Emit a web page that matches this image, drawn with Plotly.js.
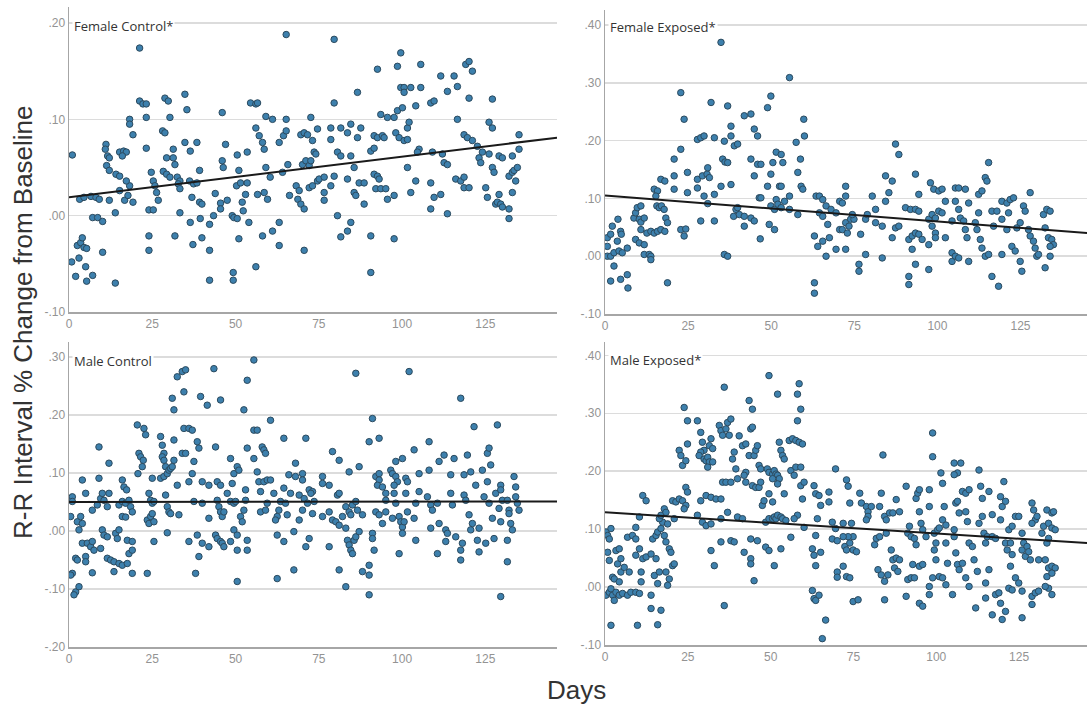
<!DOCTYPE html>
<html>
<head>
<meta charset="utf-8">
<script src="https://cdn.plot.ly/plotly-3.0.1.min.js"></script>
<style>
  html, body { margin: 0; padding: 0; background: #ffffff; }
  #chart { width: 1088px; height: 706px; }
</style>
</head>
<body>
<div id="chart"></div>
<script>
// R-R interval % change from baseline by day, one panel per group: [day, change]
const fcPoints = [
  [1.0,0.063],[0.8,-0.048],[3.0,-0.044],[2.5,-0.031],[3.5,-0.028],[4.0,-0.023],[4.5,-0.033],[5.3,-0.034],[2.0,-0.063],[5.0,-0.053],
  [5.3,-0.068],[7.1,-0.062],[3.2,0.017],[4.5,0.019],[6.6,0.020],[8.1,0.019],[9.1,0.017],[7.1,-0.002],[8.6,-0.002],[10.1,-0.006],
  [10.1,-0.038],[11.1,0.074],[10.9,0.069],[11.6,0.062],[12.1,0.060],[11.3,0.052],[12.1,0.047],[12.1,0.016],[14.1,0.043],[15.2,0.041],
  [13.9,0.003],[13.9,-0.070],[15.2,0.066],[16.4,0.067],[17.2,0.066],[16.0,0.062],[15.2,0.026],[16.7,0.016],[17.7,0.021],[18.2,0.031],
  [17.2,0.036],[18.2,0.100],[18.2,0.095],[19.2,0.084],[19.2,0.014],[21.2,0.174],[21.2,0.119],[22.2,0.116],[23.2,0.116],[23.2,0.102],
  [23.2,0.070],[24.7,0.045],[25.3,0.036],[25.8,0.031],[26.3,0.024],[24.0,0.006],[25.3,0.006],[24.0,-0.021],[24.0,-0.036],[26.8,0.016],
  [28.8,0.122],[29.8,0.119],[28.1,0.088],[28.8,0.086],[28.3,0.046],[29.3,0.043],[30.3,0.040],[30.3,0.102],[29.3,0.060],[31.3,0.069],
  [31.3,0.060],[31.8,0.053],[32.5,0.040],[33.3,0.036],[32.8,0.033],[33.3,0.028],[31.8,-0.021],[33.3,0.003],[34.8,0.126],[35.4,0.110],
  [34.8,0.076],[36.4,0.067],[38.4,0.076],[36.2,0.036],[36.9,0.019],[37.4,0.033],[38.4,0.034],[36.4,-0.007],[37.2,-0.030],[39.2,0.047],
  [39.2,0.014],[39.9,0.012],[39.4,-0.003],[39.9,-0.023],[42.2,-0.009],[42.2,-0.036],[42.2,-0.067],[43.4,0.000],[43.9,0.023],[45.5,0.013],
  [45.5,0.007],[46.0,0.107],[46.0,0.057],[46.3,0.050],[47.0,0.074],[47.5,0.016],[49.0,0.000],[49.5,-0.002],[50.5,-0.003],[49.3,-0.059],
  [49.3,-0.067],[50.3,0.031],[50.5,0.063],[51.0,0.047],[51.5,0.034],[51.0,-0.024],[52.0,0.014],[52.3,0.005],[53.0,0.022],[53.5,0.034],
  [53.5,0.066],[54.0,-0.007],[54.5,0.117],[56.1,0.116],[56.6,0.117],[56.1,0.091],[57.1,0.083],[58.1,0.076],[58.6,0.069],[56.1,-0.053],
  [56.6,0.022],[58.1,-0.021],[58.6,0.024],[59.6,0.017],[59.1,0.103],[61.1,0.100],[59.1,0.050],[60.4,0.040],[61.1,-0.016],[63.1,-0.007],
  [63.1,-0.031],[63.1,0.076],[64.4,0.083],[65.2,0.100],[65.2,0.088],[64.1,0.045],[65.7,0.053],[65.2,0.188],[66.2,0.021],[68.2,0.031],
  [68.7,0.017],[69.1,0.026],[69.6,0.084],[70.6,0.086],[71.6,0.084],[70.1,0.053],[71.1,0.057],[72.1,0.052],[72.6,0.057],[69.6,0.012],
  [70.6,0.007],[70.6,-0.036],[72.6,0.102],[73.1,0.078],[73.6,0.066],[74.1,0.064],[72.1,0.029],[73.1,0.031],[74.6,0.036],[75.1,0.038],
  [76.6,0.040],[76.6,0.024],[76.6,0.016],[74.6,0.090],[78.6,0.091],[78.6,0.079],[79.6,0.117],[79.6,0.183],[78.6,0.031],[79.6,0.041],
  [80.6,0.000],[80.6,0.066],[81.6,0.062],[81.6,0.091],[83.6,0.086],[84.6,0.095],[81.6,-0.022],[83.6,-0.016],[84.6,-0.007],[83.6,0.038],
  [84.6,0.062],[85.6,0.050],[85.6,0.024],[86.1,0.021],[86.6,0.128],[86.6,0.081],[87.6,0.091],[87.1,0.034],[88.6,0.034],[88.6,0.012],
  [90.6,0.067],[91.6,0.070],[90.6,-0.021],[90.6,-0.059],[91.6,0.083],[92.6,0.081],[94.1,0.083],[94.6,0.081],[91.6,0.043],[92.6,0.041],
  [93.1,0.038],[92.1,0.028],[93.6,0.028],[95.1,0.028],[92.6,0.152],[93.6,0.105],[95.6,0.102],[97.6,0.102],[98.6,0.109],[100.1,0.112],
  [95.6,0.017],[97.6,0.021],[97.6,-0.024],[98.1,0.086],[99.1,0.081],[100.6,0.078],[101.6,0.079],[98.6,0.155],[99.6,0.169],[99.6,0.133],
  [100.6,0.133],[100.6,0.128],[102.6,0.133],[105.6,0.133],[101.6,0.091],[102.1,0.097],[101.6,0.050],[102.6,0.024],[104.1,0.036],[104.1,0.114],
  [105.1,0.069],[104.6,0.066],[105.6,0.157],[108.6,0.034],[108.6,0.007],[108.6,0.117],[109.6,0.119],[109.6,0.019],[109.1,0.066],[112.1,0.064],
  [111.6,0.022],[111.6,0.145],[112.6,0.055],[113.6,0.053],[113.6,0.002],[113.6,0.129],[115.6,0.145],[116.6,0.134],[116.6,0.100],[116.1,0.038],
  [117.6,0.036],[118.6,0.040],[118.6,0.029],[120.1,0.029],[119.1,0.157],[120.1,0.160],[121.1,0.150],[120.1,0.122],[118.6,0.084],[119.6,0.081],
  [121.1,0.078],[122.6,0.072],[123.1,0.060],[123.6,0.055],[124.1,0.066],[125.1,0.029],[125.6,0.019],[126.1,0.064],[127.1,0.121],[126.1,0.097],
  [127.1,0.091],[127.1,0.050],[127.6,0.045],[128.1,0.012],[129.1,0.022],[128.6,0.014],[129.6,0.012],[130.1,0.009],[132.1,0.007],[132.1,-0.003],
  [129.1,0.062],[130.1,0.060],[133.1,0.062],[132.1,0.041],[133.1,0.045],[133.6,0.047],[134.6,0.050],[134.1,0.036],[133.1,0.024],[135.1,0.084],
  [135.1,0.069]
];

const fePoints = [
  [0.7,0.032],[1.7,0.038],[2.2,0.052],[0.7,0.017],[0.7,0.000],[1.7,0.000],[2.7,0.006],[4.2,0.009],[5.2,0.006],[3.9,0.064],
  [4.7,0.043],[4.9,0.038],[3.7,0.026],[2.7,-0.017],[1.7,-0.043],[4.7,-0.040],[6.7,-0.032],[6.9,-0.055],[6.7,0.014],[8.7,0.066],
  [9.2,0.075],[9.7,0.084],[10.8,0.087],[10.3,0.064],[10.8,0.059],[11.8,0.066],[9.2,0.029],[10.3,0.023],[11.8,0.020],[11.8,0.003],
  [13.3,0.003],[13.8,0.000],[13.8,-0.006],[10.8,0.046],[12.6,0.040],[13.8,0.043],[14.8,0.040],[15.8,0.043],[16.8,0.046],[18.0,0.043],
  [14.8,0.116],[15.8,0.113],[15.3,0.104],[15.6,0.087],[16.3,0.084],[17.0,0.087],[17.8,0.081],[18.3,0.066],[18.8,0.058],[16.8,0.133],
  [18.0,0.130],[18.8,-0.046],[20.8,0.116],[20.8,0.139],[20.8,0.168],[22.8,0.283],[23.8,0.237],[22.8,0.185],[22.8,0.046],[24.3,0.047],
  [23.8,0.035],[24.8,0.145],[24.8,0.110],[27.8,0.202],[28.8,0.205],[29.8,0.208],[27.8,0.118],[29.8,0.104],[28.8,0.061],[27.8,0.133],
  [29.3,0.139],[30.7,0.142],[30.9,0.153],[31.4,0.136],[31.9,0.266],[32.9,0.205],[32.9,0.107],[32.9,0.061],[30.9,0.091],[34.9,0.370],
  [34.9,0.121],[35.9,0.199],[35.4,0.168],[36.1,0.163],[36.9,0.162],[36.9,0.260],[37.9,0.225],[37.9,0.208],[37.9,0.124],[35.9,0.003],
  [36.9,0.000],[38.9,0.191],[39.9,0.194],[38.7,0.069],[39.4,0.081],[39.9,0.084],[40.4,0.072],[41.9,0.243],[43.9,0.246],[41.9,0.069],
  [41.9,0.052],[43.9,0.066],[44.9,0.061],[43.9,0.168],[44.9,0.220],[45.9,0.208],[45.9,0.159],[46.9,0.159],[44.9,0.139],[46.4,0.101],
  [46.9,0.101],[46.7,0.030],[48.9,0.257],[49.9,0.277],[49.9,0.142],[48.9,0.121],[49.9,0.087],[51.0,0.081],[51.0,0.046],[49.4,0.055],
  [50.5,0.162],[51.5,0.180],[53.0,0.176],[53.5,0.162],[51.5,0.098],[52.0,0.090],[52.5,0.121],[53.0,0.121],[53.0,0.084],[54.0,0.095],
  [55.5,0.309],[55.5,0.104],[55.5,0.081],[57.5,0.197],[58.0,0.072],[58.0,0.145],[58.8,0.168],[59.0,0.121],[59.5,0.116],[59.8,0.237],
  [60.0,0.208],[63.0,0.035],[63.0,-0.046],[63.0,-0.064],[63.5,0.104],[64.5,0.104],[65.5,0.098],[64.0,0.017],[65.5,0.026],[66.5,0.000],
  [67.5,0.032],[64.5,0.075],[65.5,0.069],[66.5,0.087],[67.0,0.055],[68.0,0.081],[69.5,0.075],[69.5,0.012],[70.6,0.095],[70.6,0.046],
  [71.4,0.092],[72.4,0.104],[72.4,0.121],[71.4,0.046],[72.4,0.058],[72.9,0.040],[73.4,0.052],[73.9,0.064],[74.9,0.064],[74.4,0.072],
  [72.4,0.012],[76.4,-0.014],[76.4,-0.026],[76.9,0.038],[78.4,0.003],[78.4,0.064],[78.9,0.072],[80.4,0.104],[81.4,0.081],[81.4,0.058],
  [83.4,0.052],[83.4,-0.003],[84.4,0.095],[84.4,0.139],[85.4,0.110],[86.4,0.130],[86.4,0.032],[87.4,0.049],[88.4,0.052],[87.4,0.194],
  [88.4,0.176],[90.4,0.084],[91.9,0.081],[93.4,0.081],[94.4,0.078],[91.4,0.029],[92.4,0.035],[93.4,0.040],[94.4,0.038],[95.4,0.029],
  [97.4,0.020],[93.4,0.142],[91.4,-0.035],[91.4,-0.049],[93.4,-0.014],[97.4,-0.023],[94.4,0.107],[92.4,0.012],[97.4,0.064],[98.4,0.072],
  [99.4,0.040],[99.4,0.032],[98.4,0.052],[97.9,0.127],[98.9,0.116],[100.4,0.113],[101.4,0.116],[99.4,0.066],[100.4,0.078],[101.4,0.075],
  [102.4,0.095],[102.4,0.032],[104.4,0.061],[104.4,0.006],[104.4,-0.009],[105.4,0.000],[106.4,-0.003],[109.4,-0.009],[105.4,0.118],[106.4,0.118],
  [105.4,0.095],[108.4,0.116],[109.4,0.092],[106.4,0.081],[106.9,0.066],[107.9,0.061],[108.4,0.046],[108.9,0.032],[112.4,0.107],[113.4,0.113],
  [112.4,0.075],[111.4,0.058],[111.9,0.046],[112.9,0.029],[113.4,0.014],[114.4,0.000],[115.4,0.003],[114.4,0.136],[114.9,0.130],[115.4,0.162],
  [116.4,0.078],[116.9,0.052],[117.9,0.078],[119.4,0.064],[119.4,0.095],[120.9,0.092],[121.9,0.098],[122.9,0.101],[116.4,-0.035],[118.4,-0.052],
  [119.4,0.003],[120.9,0.046],[122.4,0.017],[123.4,0.009],[124.9,-0.009],[125.4,-0.026],[121.4,0.075],[123.9,0.049],[124.9,0.058],[125.9,0.087],
  [126.4,0.078],[127.4,0.046],[127.9,0.035],[128.9,0.026],[129.4,0.014],[129.9,0.000],[130.4,0.003],[127.9,0.110],[131.9,0.072],[132.9,0.081],
  [133.9,0.078],[132.4,0.049],[133.4,0.032],[134.4,0.029],[134.9,0.020],[133.9,0.017],[132.4,-0.020],[133.9,0.000]
];

const mcPoints = [
  [1.0,0.059],[1.0,0.051],[0.5,0.025],[1.0,-0.073],[0.5,-0.076],[2.0,-0.105],[1.5,-0.110],[3.0,-0.096],[2.5,0.016],[3.0,0.002],
  [4.0,0.013],[3.5,0.025],[2.0,-0.047],[2.5,-0.050],[5.0,-0.044],[5.0,-0.053],[4.0,0.088],[5.0,0.065],[4.0,-0.021],[5.5,-0.021],
  [6.5,-0.027],[7.5,-0.033],[7.0,-0.018],[9.5,-0.030],[7.0,-0.072],[7.0,0.036],[8.5,0.045],[9.5,0.056],[10.0,0.065],[10.5,0.053],
  [11.5,0.042],[9.0,0.145],[9.0,0.091],[10.0,0.002],[10.5,-0.007],[11.5,-0.010],[11.5,-0.047],[12.5,-0.050],[13.5,-0.053],[15.0,-0.056],
  [16.0,-0.059],[17.5,-0.056],[18.0,-0.039],[12.0,0.117],[12.0,0.065],[13.5,-0.070],[14.0,-0.004],[14.5,-0.013],[15.0,0.002],[16.0,0.025],
  [17.0,0.024],[15.0,0.045],[16.0,0.051],[17.0,0.048],[16.0,0.088],[16.5,0.076],[17.3,0.071],[18.0,0.053],[18.5,0.042],[19.0,0.033],
  [17.5,-0.016],[19.0,-0.018],[19.0,-0.033],[19.0,-0.073],[20.5,0.183],[21.0,0.134],[21.5,0.128],[22.3,0.122],[22.0,0.111],[20.7,0.099],
  [22.5,0.177],[23.0,0.166],[23.5,-0.073],[23.5,0.019],[24.0,0.013],[24.5,0.025],[25.0,0.030],[25.5,0.016],[24.0,0.065],[24.5,0.053],
  [25.0,0.048],[25.5,0.051],[25.0,0.091],[25.5,-0.018],[27.5,0.163],[28.0,0.148],[28.5,0.134],[28.0,0.128],[28.5,0.122],[29.0,0.111],
  [27.5,0.091],[28.5,0.094],[29.0,0.062],[29.5,0.099],[30.0,0.105],[30.5,0.108],[31.0,0.111],[31.5,0.122],[31.5,0.157],[32.5,0.079],
  [29.5,0.042],[30.0,0.033],[30.5,0.030],[29.5,-0.003],[31.0,0.229],[31.5,0.209],[32.5,0.266],[34.0,0.275],[35.0,0.278],[34.5,0.240],
  [33.0,0.028],[34.0,0.134],[35.0,0.134],[34.5,0.177],[36.0,0.177],[37.0,0.174],[36.0,-0.018],[36.0,0.085],[37.0,0.099],[37.5,0.120],
  [37.5,0.051],[38.0,-0.073],[39.0,-0.044],[38.5,0.154],[39.0,0.143],[38.5,-0.007],[40.0,-0.021],[39.5,0.232],[41.5,0.217],[40.0,0.085],
  [42.0,0.079],[42.0,0.022],[42.0,-0.027],[40.0,0.048],[43.5,0.280],[44.0,0.145],[44.5,0.085],[45.5,0.079],[44.0,-0.007],[44.5,-0.013],
  [45.5,-0.018],[46.0,-0.021],[46.5,-0.027],[44.5,0.053],[45.0,0.042],[45.5,0.033],[46.0,0.025],[46.5,0.033],[45.5,0.226],[47.5,0.065],
  [48.5,0.051],[49.0,0.082],[49.5,0.048],[50.0,0.051],[48.5,0.125],[49.5,0.099],[50.5,0.111],[51.0,0.105],[48.5,-0.018],[49.5,0.002],
  [50.5,-0.007],[50.5,-0.033],[50.5,-0.087],[51.5,0.025],[52.0,0.016],[52.5,0.036],[53.0,0.053],[52.5,0.209],[53.5,0.260],[53.5,0.143],
  [53.0,0.071],[53.5,-0.016],[53.5,-0.033],[55.5,0.295],[55.5,0.174],[56.5,0.174],[55.5,0.125],[56.5,0.102],[57.0,0.085],[57.5,0.068],
  [58.5,0.085],[58.0,0.145],[58.5,0.140],[59.0,0.134],[57.5,0.033],[59.0,0.036],[59.5,0.048],[60.5,0.191],[59.5,0.088],[60.5,0.088],
  [61.5,0.065],[62.5,0.025],[62.0,0.019],[63.0,0.036],[63.5,0.051],[62.5,-0.007],[62.5,-0.082],[64.5,-0.018],[64.5,0.160],[64.5,0.074],
  [65.0,0.048],[65.5,0.028],[66.0,0.097],[66.5,0.065],[67.5,-0.001],[68.0,0.117],[68.0,0.094],[67.5,-0.067],[69.1,0.062],[69.1,0.019],
  [70.1,0.099],[70.1,0.088],[70.1,0.036],[71.1,0.160],[71.1,-0.027],[72.1,-0.013],[70.6,0.056],[71.6,0.048],[72.1,0.071],[73.1,0.068],
  [73.6,0.051],[73.1,0.030],[72.6,0.065],[76.1,0.094],[76.1,0.082],[78.1,0.079],[76.1,0.025],[78.1,0.033],[78.1,-0.027],[79.1,0.137],
  [81.1,0.122],[79.1,0.019],[80.1,0.016],[81.1,0.010],[82.1,0.025],[81.1,-0.067],[83.1,-0.096],[83.1,0.005],[80.6,0.062],[81.1,0.065],
  [83.1,0.042],[84.1,0.033],[84.6,0.028],[85.1,0.045],[86.1,0.051],[86.6,0.036],[84.1,0.102],[87.1,0.111],[86.1,0.272],[83.6,-0.016],
  [84.1,-0.024],[84.6,-0.033],[85.6,-0.016],[86.1,-0.010],[87.1,-0.001],[85.1,-0.039],[88.1,0.028],[88.1,-0.070],[90.1,-0.076],[90.1,-0.059],
  [90.1,-0.110],[91.1,0.194],[90.1,0.154],[93.1,0.160],[91.1,-0.004],[91.1,-0.013],[91.6,-0.033],[92.1,0.094],[93.1,0.099],[93.1,0.088],
  [92.6,0.079],[94.1,0.076],[95.1,0.065],[95.1,0.053],[92.1,0.033],[93.1,0.028],[94.1,0.013],[95.1,0.033],[96.6,0.105],[97.1,0.099],
  [98.1,0.094],[98.6,0.085],[97.6,0.079],[98.1,0.120],[100.1,0.125],[97.6,0.065],[98.1,0.048],[97.1,0.022],[99.1,0.025],[99.6,0.016],
  [100.1,0.007],[100.1,-0.004],[99.1,-0.039],[101.1,0.091],[101.6,0.085],[101.1,0.065],[101.6,0.033],[100.6,0.016],[102.1,0.275],[103.6,0.140],
  [104.1,0.048],[103.6,0.022],[104.1,-0.016],[105.1,0.099],[105.1,0.068],[107.6,0.059],[108.1,0.105],[108.1,0.154],[108.6,0.045],[108.6,0.005],
  [109.1,0.036],[110.6,0.048],[110.6,-0.039],[111.1,0.120],[111.1,0.013],[112.6,0.131],[113.1,0.002],[113.1,-0.018],[113.6,-0.004],[114.6,0.097],
  [114.6,0.065],[115.1,0.045],[115.6,0.125],[116.1,-0.010],[117.6,0.229],[117.6,-0.033],[117.6,-0.050],[118.1,-0.021],[118.6,0.097],[118.6,0.062],
  [119.1,0.053],[119.6,0.131],[120.1,0.028],[120.6,0.102],[120.6,0.002],[121.1,0.013],[121.6,0.180],[122.1,0.079],[122.6,-0.016],[123.1,0.005],
  [123.1,-0.036],[124.1,0.105],[124.6,0.059],[125.1,-0.021],[125.6,0.134],[125.6,0.085],[126.1,0.143],[126.1,0.048],[126.6,0.114],[127.1,0.022],
  [127.6,-0.013],[128.1,0.065],[128.6,0.183],[129.1,0.039],[129.6,0.079],[129.6,0.071],[129.6,0.016],[129.6,-0.113],[130.1,0.053],[131.6,0.053],
  [131.6,-0.016],[131.6,-0.053],[132.1,0.036],[132.1,0.030],[132.6,0.013],[133.1,0.002],[133.6,0.094],[134.1,0.076],[134.1,0.059],[134.6,0.048],
  [135.1,0.036]
];

const mePoints = [
  [0.3,0.095],[0.8,0.089],[1.3,0.083],[1.8,0.101],[0.8,0.060],[1.3,0.046],[0.3,-0.014],[1.3,-0.009],[1.8,-0.003],[2.3,-0.014],
  [2.8,-0.023],[3.3,-0.009],[4.3,-0.014],[5.3,-0.011],[6.8,-0.014],[7.8,-0.009],[9.3,-0.009],[10.4,-0.011],[1.8,-0.066],[9.8,-0.066],
  [15.9,-0.065],[16.9,-0.040],[13.9,-0.037],[2.3,0.017],[2.8,0.014],[4.3,0.009],[4.8,0.026],[5.8,0.034],[7.3,0.026],[3.8,0.040],
  [3.3,0.063],[4.3,0.066],[4.8,0.049],[6.8,0.086],[8.3,0.089],[9.3,0.083],[10.4,0.066],[9.3,0.055],[11.4,0.049],[12.4,0.052],
  [13.9,0.057],[15.4,0.049],[9.3,0.103],[10.4,0.121],[11.4,0.158],[12.4,0.149],[10.9,0.009],[10.9,0.026],[14.9,0.020],[13.9,-0.014],
  [14.4,0.083],[15.4,0.089],[15.9,0.095],[16.9,0.101],[17.4,0.112],[18.9,0.109],[17.9,0.089],[18.4,0.078],[19.4,0.066],[19.9,0.060],
  [20.4,0.037],[20.9,0.040],[18.4,0.026],[19.4,0.014],[18.9,0.003],[16.4,0.026],[15.9,0.006],[16.4,0.118],[16.9,0.124],[17.9,0.135],
  [18.4,0.129],[20.9,0.118],[20.4,0.149],[21.4,0.147],[22.4,0.152],[23.4,0.149],[24.4,0.141],[23.9,0.135],[22.4,0.236],[22.9,0.227],
  [23.4,0.210],[24.4,0.218],[23.9,0.310],[24.9,0.287],[24.9,0.247],[24.4,0.172],[24.9,0.164],[27.9,0.287],[28.9,0.267],[29.4,0.250],
  [29.9,0.236],[28.9,0.233],[28.4,0.227],[29.9,0.221],[30.5,0.218],[31.0,0.224],[31.5,0.216],[31.0,0.207],[32.5,0.216],[31.5,0.244],
  [32.0,0.256],[32.5,0.239],[27.9,0.124],[29.4,0.112],[30.5,0.106],[32.0,0.109],[28.9,0.149],[30.5,0.158],[32.0,0.155],[33.5,0.152],
  [35.0,0.152],[32.0,0.063],[33.0,0.037],[34.5,0.279],[35.0,0.270],[35.5,0.262],[36.5,0.273],[37.0,0.284],[38.0,0.290],[37.5,0.262],
  [36.0,0.345],[36.0,-0.032],[35.0,0.118],[35.5,0.181],[36.5,0.181],[35.0,0.078],[37.0,0.129],[38.0,0.181],[38.5,0.221],[39.0,0.233],
  [39.5,0.204],[40.0,0.187],[38.0,0.080],[39.0,0.078],[40.5,0.261],[41.5,0.244],[42.5,0.247],[43.5,0.227],[42.5,0.198],[42.0,0.193],
  [42.5,0.181],[40.0,0.121],[41.5,0.118],[42.0,0.060],[44.0,0.273],[44.5,0.276],[43.5,0.322],[44.5,0.307],[45.0,0.227],[45.5,0.236],
  [46.0,0.244],[46.5,0.210],[47.0,0.204],[44.5,0.175],[45.5,0.172],[46.5,0.172],[47.0,0.181],[44.0,0.049],[44.0,0.040],[45.0,0.011],
  [44.0,0.083],[46.0,0.080],[47.5,0.141],[48.0,0.149],[49.0,0.204],[49.5,0.198],[50.6,0.195],[51.1,0.201],[51.6,0.195],[52.1,0.193],
  [52.6,0.187],[52.1,0.178],[50.6,0.187],[49.5,0.161],[50.6,0.147],[48.5,0.112],[49.5,0.118],[50.6,0.118],[51.1,0.121],[51.6,0.118],
  [52.1,0.124],[53.1,0.121],[53.6,0.118],[54.6,0.115],[48.5,0.069],[49.5,0.063],[51.1,0.037],[53.1,0.066],[49.5,0.365],[52.1,0.333],
  [52.6,0.250],[53.1,0.236],[53.6,0.227],[54.1,0.221],[54.1,0.161],[55.6,0.253],[56.6,0.256],[57.6,0.253],[58.6,0.250],[59.6,0.247],
  [56.1,0.201],[57.1,0.193],[57.6,0.207],[59.1,0.207],[59.1,0.175],[60.1,0.181],[59.6,0.152],[58.1,0.124],[56.1,0.086],[57.1,0.118],
  [58.1,0.333],[58.6,0.351],[58.1,0.287],[59.1,0.307],[60.1,0.103],[63.1,0.175],[63.6,0.161],[64.6,0.158],[65.1,0.141],[64.1,0.118],
  [63.6,0.089],[62.6,0.066],[63.1,0.055],[63.6,0.037],[65.1,0.060],[62.6,-0.006],[63.1,-0.020],[63.6,-0.023],[64.6,-0.014],[66.6,-0.057],
  [65.6,-0.089],[67.6,0.147],[68.6,0.112],[68.6,0.083],[69.6,0.101],[69.6,0.204],[70.1,0.080],[70.1,0.026],[70.1,0.017],[67.6,0.164],
  [71.9,0.110],[72.9,0.185],[73.4,0.174],[73.9,0.145],[74.4,0.110],[74.9,0.087],[73.4,0.087],[71.9,0.087],[72.4,0.070],[73.9,0.076],
  [72.9,0.064],[74.9,0.064],[75.9,0.061],[71.9,0.036],[72.9,0.018],[73.9,0.016],[74.9,-0.025],[76.4,-0.022],[76.9,0.162],[77.4,0.145],
  [78.9,0.139],[79.4,0.130],[79.4,0.122],[78.9,0.116],[80.4,0.139],[81.4,0.073],[81.9,0.084],[82.9,0.087],[82.9,0.139],[83.4,0.162],
  [83.9,0.228],[84.4,0.122],[85.9,0.128],[86.9,0.128],[88.9,0.130],[84.9,0.116],[84.9,0.093],[82.4,0.030],[83.4,0.021],[84.4,0.010],
  [84.4,-0.022],[85.4,0.021],[86.4,0.064],[86.9,0.047],[87.9,0.050],[88.9,0.047],[87.4,0.033],[88.4,0.027],[87.9,0.151],[90.9,0.174],
  [91.4,0.093],[91.9,0.105],[92.4,0.087],[93.4,0.084],[93.9,0.073],[93.9,0.153],[94.4,0.162],[94.9,0.168],[94.9,0.130],[95.4,0.110],
  [95.9,0.099],[91.4,0.013],[92.4,0.016],[93.4,0.016],[90.9,-0.016],[92.9,0.039],[94.9,0.036],[95.9,0.039],[94.9,-0.028],[95.9,-0.033],
  [96.9,0.087],[97.9,0.168],[97.9,0.139],[98.9,0.266],[98.9,0.225],[99.4,0.093],[99.4,0.064],[99.9,0.076],[100.4,0.099],[99.9,0.047],
  [100.9,0.102],[100.9,0.018],[101.4,0.197],[101.9,0.179],[102.4,0.139],[101.9,0.116],[102.9,0.107],[102.9,0.076],[103.4,0.041],[102.9,0.004],
  [101.9,0.016],[98.9,0.016],[97.9,0.001],[97.9,-0.013],[104.9,-0.013],[105.4,0.214],[106.4,0.197],[107.4,0.214],[105.4,0.194],[105.9,0.145],
  [106.4,0.148],[106.9,0.128],[105.4,0.099],[105.4,0.087],[105.9,0.059],[106.4,0.039],[106.9,0.030],[107.9,0.041],[107.9,0.165],[108.9,0.162],
  [109.9,0.168],[108.9,0.130],[109.4,0.113],[109.9,0.076],[110.9,0.070],[108.9,0.016],[109.9,0.001],[111.4,0.047],[111.9,-0.036],[112.4,0.027],
  [112.9,0.202],[113.4,0.174],[113.9,0.122],[112.9,0.110],[113.9,0.153],[114.4,0.093],[114.9,0.076],[115.4,0.087],[114.9,0.007],[115.9,0.030],
  [115.9,0.165],[116.9,0.125],[116.9,0.087],[117.9,0.084],[114.9,-0.019],[116.9,-0.048],[117.9,-0.013],[118.9,-0.010],[119.4,-0.028],[119.9,-0.056],
  [120.9,-0.042],[119.4,0.156],[119.9,0.139],[120.4,0.182],[120.9,0.148],[119.4,0.116],[120.9,0.076],[121.4,0.064],[121.9,0.099],[122.4,0.076],
  [122.9,0.105],[122.4,0.036],[122.9,0.056],[121.9,-0.002],[122.9,-0.005],[123.9,0.122],[124.9,0.122],[125.9,0.093],[125.9,0.064],[123.9,0.016],
  [124.9,0.007],[125.9,-0.007],[125.9,-0.053],[126.4,0.076],[126.9,0.053],[127.4,0.070],[127.9,0.061],[128.4,0.047],[128.9,0.145],[129.4,0.133],
  [129.9,0.116],[128.9,0.110],[130.4,0.122],[130.9,0.047],[128.9,-0.016],[128.9,-0.030],[129.9,-0.010],[130.9,-0.007],[131.9,0.093],[132.4,0.105],
  [133.4,0.133],[133.9,0.110],[134.9,0.128],[135.4,0.130],[134.9,0.102],[135.9,0.099],[133.4,0.076],[133.9,0.084],[132.9,0.047],[133.9,0.033],
  [134.9,0.036],[135.9,0.033],[133.4,0.018],[134.9,0.024],[133.9,-0.002],[134.9,-0.013],[132.9,0.001]
];

// Linear fit line per panel: [day, value] at both ends of the x axis
const fcFit = [[0, 0.019], [146.5, 0.081]];
const feFit = [[0, 0.105], [145, 0.040]];
const mcFit = [[0, 0.050], [146.5, 0.051]];
const meFit = [[0, 0.129], [145.5, 0.076]];

// Panel titles and axis labels
const panelTitles = ['Female Control*', 'Female Exposed*', 'Male Control', 'Male Exposed*'];
const yTitle = 'R-R Interval % Change from Baseline';
const xTitle = 'Days';

// Tick values and their printed labels
const dayTicks = [0, 25, 50, 75, 100, 125];
const dayTickText = ['0', '25', '50', '75', '100', '125'];
const fcTicks = [-0.10, 0.00, 0.10, 0.20];
const fcTickText = ['-.10', '.00', '.10', '.20'];
const feTicks = [-0.10, 0.00, 0.10, 0.20, 0.30, 0.40];
const feTickText = ['-.10', '.00', '.10', '.20', '.30', '.40'];
const mcTicks = [-0.20, -0.10, 0.00, 0.10, 0.20, 0.30];
const mcTickText = ['-.20', '-.10', '.00', '.10', '.20', '.30'];
const meTicks = [-0.10, 0.00, 0.10, 0.20, 0.30, 0.40];
const meTickText = ['-.10', '.00', '.10', '.20', '.30', '.40'];

const W = 1088, H = 706;
// pixel boxes of the four plot areas: [left, right, top, bottom]
const boxes = [
  [69, 557, 7, 312],
  [605, 1087, 10, 314],
  [69, 557, 342, 647],
  [605, 1087, 342, 645]
];
const yRanges = [[-0.10, 0.2166], [-0.10, 0.426], [-0.20, 0.326], [-0.10, 0.423]];
const xRanges = [[0, 146.5], [0, 145], [0, 146.5], [0, 145.5]];
const yTickSets = [[fcTicks, fcTickText], [feTicks, feTickText], [mcTicks, mcTickText], [meTicks, meTickText]];
const pointSets = [fcPoints, fePoints, mcPoints, mePoints];
const fitSets = [fcFit, feFit, mcFit, meFit];
const labelY = [0.938, 0.945, 0.937, 0.94];

const markerStyle = { size: 6.5, color: '#3d80ad', line: { color: '#2c4a5e', width: 1 } };
const tickFont = { family: 'Liberation Sans, Arial, sans-serif', size: 12, color: '#939393' };
const titleFont = { family: 'Liberation Sans, Arial, sans-serif', size: 26, color: '#333333' };

const traces = [];
const layout = {
  width: W, height: H,
  margin: { l: 0, r: 0, t: 0, b: 0 },
  paper_bgcolor: '#ffffff', plot_bgcolor: '#ffffff',
  showlegend: false,
  annotations: [],
  font: { family: 'Open Sans, sans-serif' }
};

for (let i = 0; i < 4; i++) {
  const n = i === 0 ? '' : String(i + 1);
  const xa = 'x' + n, ya = 'y' + n;
  const pts = pointSets[i];
  traces.push({
    type: 'scatter', mode: 'markers', xaxis: xa, yaxis: ya,
    x: pts.map(p => p[0]), y: pts.map(p => p[1]),
    marker: markerStyle, hoverinfo: 'skip'
  });
  traces.push({
    type: 'scatter', mode: 'lines', xaxis: xa, yaxis: ya,
    x: fitSets[i].map(p => p[0]), y: fitSets[i].map(p => p[1]),
    line: { color: '#1a1a1a', width: 2 }, hoverinfo: 'skip'
  });
  const b = boxes[i];
  layout['xaxis' + n] = {
    domain: [b[0] / W, b[1] / W], anchor: ya,
    range: xRanges[i], tickvals: dayTicks, ticktext: dayTickText,
    showgrid: false, zeroline: false, showline: true, linecolor: '#a6a6a6', linewidth: 1.5,
    ticks: '', tickfont: tickFont, fixedrange: true
  };
  layout['yaxis' + n] = {
    domain: [1 - b[3] / H, 1 - b[2] / H], anchor: xa,
    range: yRanges[i], tickvals: yTickSets[i][0], ticktext: yTickSets[i][1],
    showgrid: true, gridcolor: '#dcdcdc', gridwidth: 1.5,
    zeroline: false, showline: true, linecolor: '#a6a6a6', linewidth: 1.5,
    ticks: '', tickfont: tickFont, fixedrange: true
  };
  layout.annotations.push({
    text: panelTitles[i], xref: xa + ' domain', yref: ya + ' domain',
    x: 0.006, y: labelY[i], xanchor: 'left', yanchor: 'middle', showarrow: false,
    bgcolor: '#ffffff', borderpad: 1,
    font: { family: 'Open Sans, sans-serif', size: 13, color: '#333333' }
  });
}

layout.annotations.push({
  text: yTitle, xref: 'paper', yref: 'paper', x: 23 / W, y: 1 - 322 / H,
  xanchor: 'center', yanchor: 'middle', textangle: -90, showarrow: false,
  font: titleFont
});
layout.annotations.push({
  text: xTitle, xref: 'paper', yref: 'paper', x: 576 / W, y: 1 - 690 / H,
  xanchor: 'center', yanchor: 'middle', showarrow: false,
  font: titleFont
});

Plotly.newPlot('chart', traces, layout, { staticPlot: true, displayModeBar: false });
</script>
</body>
</html>
